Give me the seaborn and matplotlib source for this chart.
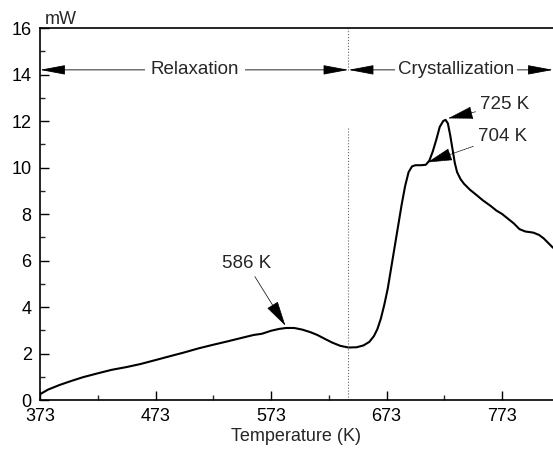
import seaborn as sns
import numpy as np
import pandas as pd
import matplotlib.pyplot as plt

# DSC trace
temperature = [373, 380, 390, 400, 410, 423, 435, 448, 460, 473, 485, 498, 510,
               523, 535, 548, 558, 565, 573, 580, 586, 593, 600, 607, 613, 620,
               626, 633, 640, 647, 653, 658, 662, 665, 668, 671, 674, 677, 680,
               683, 686, 689, 692, 695, 698, 703, 707, 710, 713, 716, 719, 722,
               724, 726, 728, 730, 732, 734, 737, 740, 745, 750, 756, 763, 768,
               773, 778, 783, 788, 793, 800, 805, 809, 813, 817]
heat_flow = [0.25, 0.45, 0.65, 0.82, 0.98, 1.15, 1.3, 1.42, 1.55, 1.72, 1.88, 2.05, 2.22,
             2.38, 2.52, 2.68, 2.8, 2.85, 2.98, 3.06, 3.1, 3.1, 3.03, 2.92, 2.8, 2.62,
             2.47, 2.33, 2.26, 2.27, 2.35, 2.5, 2.75, 3.05, 3.5, 4.1, 4.8, 5.7, 6.6,
             7.5, 8.4, 9.2, 9.8, 10.05, 10.1, 10.1, 10.12, 10.3, 10.7, 11.2, 11.75, 12.0,
             12.05, 11.9, 11.4, 10.8, 10.2, 9.8, 9.5, 9.3, 9.05, 8.85, 8.6, 8.35, 8.15,
             8.0, 7.8, 7.6, 7.35, 7.25, 7.2, 7.1, 6.95, 6.75, 6.55]

x_ticks = [373, 473, 573, 673, 773]
y_ticks = [0, 2, 4, 6, 8, 10, 12, 14, 16]
boundary = 640

df = pd.DataFrame({'T': temperature, 'P': heat_flow})

sns.set_style('ticks')
plt.rcParams['font.family'] = ['Liberation Sans', 'DejaVu Sans']

fig = plt.figure(figsize=(5.53, 4.49), dpi=100)
ax = fig.add_axes([0.0723, 0.109, 0.9277, 0.8286])

sns.lineplot(data=df, x='T', y='P', ax=ax, color='black', linewidth=1.5)

ax.set_xlim(373, 817)
ax.set_ylim(0, 16)
ax.set_xticks(x_ticks)
ax.set_xticks([423, 523, 623, 723], minor=True)
ax.set_yticks(y_ticks)
ax.set_yticks([1, 3, 5, 7, 9, 11, 13, 15], minor=True)
ax.tick_params(direction='in', length=6.5, width=1, labelsize=13, pad=6, colors='black')
ax.tick_params(which='minor', direction='in', length=3.5, width=1)
for s in ['left', 'bottom', 'top']:
    ax.spines[s].set_linewidth(1.2)
    ax.spines[s].set_color('black')
ax.spines['right'].set_visible(False)
ax.set_xlabel('Temperature (K)', fontsize=13, labelpad=2)
ax.set_ylabel('')
ax.text(0.01, 1.0, 'mW', transform=ax.transAxes, fontsize=13, va='bottom', ha='left')

ax.vlines(boundary, 0, 11.7, colors='0.4', linestyles=':', linewidth=0.8)
ax.vlines(boundary, 14.2, 16, colors='0.4', linestyles=':', linewidth=0.8)

arrow = dict(arrowstyle='-|>,head_length=1.6,head_width=0.3', color='black',
             lw=0.6, shrinkA=6, shrinkB=0)
band_y = 14.2
ax.annotate('', xy=(373, band_y), xytext=(507, band_y), arrowprops=arrow)
ax.annotate('', xy=(boundary, band_y), xytext=(507, band_y), arrowprops=arrow)
ax.text(507, band_y, 'Relaxation', ha='center', va='center', fontsize=13.5,
        bbox=dict(fc='white', ec='none', pad=4))
ax.annotate('', xy=(boundary, band_y), xytext=(733, band_y), arrowprops=arrow)
ax.annotate('', xy=(817, band_y), xytext=(733, band_y), arrowprops=arrow)
ax.text(733, band_y, 'Crystallization', ha='center', va='center', fontsize=13.5,
        bbox=dict(fc='white', ec='none', pad=2))

pk = dict(arrowstyle='-|>,head_length=1.2,head_width=0.3', color='black', lw=0.5,
          shrinkA=1, shrinkB=1)
ax.annotate('586 K', xy=(586, 3.15), xytext=(552, 5.5), ha='center', va='bottom',
            fontsize=13.5, arrowprops=pk)
pk2 = dict(pk, linestyle=(0, (2, 1)))
ax.annotate('725 K', xy=(725, 12.1), xytext=(754, 12.7), ha='left', va='center',
            fontsize=13.5, arrowprops=pk2)
ax.annotate('704 K', xy=(707, 10.2), xytext=(752, 11.35), ha='left', va='center',
            fontsize=13.5, arrowprops=pk2)

plt.savefig('out.png', dpi=100)
